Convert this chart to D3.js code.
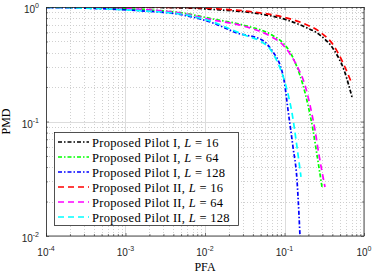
<!DOCTYPE html>
<html>
<head>
<meta charset="utf-8">
<script src="https://cdn.jsdelivr.net/npm/d3@7"></script>
<style>
  body { margin: 0; background: #fff; }
  svg { display: block; }
  .serif { font-family: "Liberation Serif", "Times New Roman"; }
  .sans { font-family: "Liberation Sans", Arial, Helvetica; }
</style>
</head>
<body>
<div id="chart"></div>
<script>
// curve data (PFA -> PMD)
const pfaBlack = [1e-4, 8.52e-4, 5.94e-3, 0.01544, 0.04134, 0.1075, 0.1811, 0.2796, 0.4194, 0.5603, 0.7063];
const pmdBlack = [1.0, 0.996, 0.980, 0.942, 0.886, 0.770, 0.669, 0.569, 0.421, 0.2817, 0.1637];
const pmdRed   = [1.0, 0.998, 0.990, 0.961, 0.904, 0.801, 0.710, 0.605, 0.456, 0.3114, 0.2126];

const pfaGreen = [1e-4, 4.776e-4, 2.033e-3, 4.847e-3, 0.0126, 0.03375, 0.06571, 0.0957, 0.1173, 0.1436, 0.1709, 0.1975, 0.2283, 0.2563, 0.2962];
const pmdGreen = [0.994, 0.980, 0.942, 0.895, 0.786, 0.682, 0.581, 0.485, 0.4046, 0.299, 0.208, 0.139, 0.0843, 0.051, 0.0268];

const pfaMagenta = [1e-4, 4.776e-4, 2.033e-3, 4.847e-3, 0.0126, 0.03375, 0.06571, 0.0957, 0.1173, 0.1479, 0.1811, 0.2093, 0.2418, 0.2716, 0.3231];
const pmdMagenta = [0.990, 0.980, 0.942, 0.886, 0.770, 0.669, 0.558, 0.466, 0.389, 0.293, 0.208, 0.139, 0.0843, 0.051, 0.0268];

const pfaBlue = [1e-4, 3.577e-4, 1.522e-3, 4.847e-3, 0.0126, 0.02526, 0.05212, 0.07165, 0.0878, 0.0986, 0.1107, 0.1279, 0.1436, 0.1522, 0.1567, 0.1613];
const pmdBlue = [0.990, 0.974, 0.928, 0.860, 0.725, 0.593, 0.515, 0.4046, 0.3114, 0.2304, 0.126, 0.0599, 0.0308, 0.01526, 0.0100, 0.00755];

const pfaCyan = [1e-4, 3.577e-4, 1.522e-3, 4.847e-3, 0.0126, 0.02064, 0.03375, 0.04918, 0.06571, 0.0804, 0.0957, 0.1075, 0.1243, 0.1436, 0.1613];
const pmdCyan = [0.990, 0.974, 0.928, 0.869, 0.740, 0.642, 0.558, 0.505, 0.430, 0.3376, 0.2496, 0.1884, 0.1187, 0.0599, 0.0328];

const xTicks = [1e-4, 1e-3, 1e-2, 1e-1, 1];
const yTicks = [1e-2, 1e-1, 1];

const series = [
  { label: "Proposed Pilot I, ",  L: "16",  color: "#000000", dash: "4,2,1.5,2", x: pfaBlack,   y: pmdBlack },
  { label: "Proposed Pilot I, ",  L: "64",  color: "#00ff00", dash: "4,2,1.5,2", x: pfaGreen,   y: pmdGreen },
  { label: "Proposed Pilot I, ",  L: "128", color: "#0000ff", dash: "4,2,1.5,2", x: pfaBlue,    y: pmdBlue },
  { label: "Proposed Pilot II, ", L: "16",  color: "#ff0000", dash: "6,4",       x: pfaBlack,   y: pmdRed },
  { label: "Proposed Pilot II, ", L: "64",  color: "#ff00ff", dash: "6,4",       x: pfaMagenta, y: pmdMagenta },
  { label: "Proposed Pilot II, ", L: "128", color: "#00ffff", dash: "6,4",       x: pfaCyan,    y: pmdCyan }
];

const W = 374, H = 273;
const margin = { top: 7, right: 10, bottom: 37, left: 46 };
const width = W - margin.left - margin.right;
const height = H - margin.top - margin.bottom;

const svg = d3.select("#chart").append("svg")
  .attr("width", W)
  .attr("height", H);

const g = svg.append("g")
  .attr("transform", `translate(${margin.left},${margin.top})`);

const x = d3.scaleLog().domain([1e-4, 1]).range([0, width]);
const y = d3.scaleLog().domain([1e-2, 1]).range([height, 0]);

// minor positions (2..9 per decade)
function minors(lo, hi) {
  const out = [];
  for (let e = lo; e < hi; e++) {
    for (let k = 2; k <= 9; k++) out.push(k * Math.pow(10, e));
  }
  return out;
}
const xMinor = minors(-4, 0);
const yMinor = minors(-2, 0);

// grid
const grid = g.append("g");
grid.selectAll(".xm").data(xMinor).enter().append("line")
  .attr("x1", d => Math.round(x(d)) + 0.5).attr("x2", d => Math.round(x(d)) + 0.5)
  .attr("y1", 0).attr("y2", height)
  .attr("stroke", "#c4c4c4").attr("stroke-width", 0.8).attr("stroke-dasharray", "1,2");
grid.selectAll(".ym").data(yMinor).enter().append("line")
  .attr("y1", d => Math.round(y(d)) + 0.5).attr("y2", d => Math.round(y(d)) + 0.5)
  .attr("x1", 0).attr("x2", width)
  .attr("stroke", "#c4c4c4").attr("stroke-width", 0.8).attr("stroke-dasharray", "1,2");
grid.selectAll(".xM").data(xTicks).enter().append("line")
  .attr("x1", d => Math.round(x(d)) + 0.5).attr("x2", d => Math.round(x(d)) + 0.5)
  .attr("y1", 0).attr("y2", height)
  .attr("stroke", "#dcdcdc").attr("stroke-width", 1);
grid.selectAll(".yM").data(yTicks).enter().append("line")
  .attr("y1", d => Math.round(y(d)) + 0.5).attr("y2", d => Math.round(y(d)) + 0.5)
  .attr("x1", 0).attr("x2", width)
  .attr("stroke", "#dcdcdc").attr("stroke-width", 1);

// curves
svg.append("defs").append("clipPath").attr("id", "clip")
  .append("rect").attr("width", width).attr("height", height);

const line = d3.line()
  .x(d => x(d[0]))
  .y(d => y(d[1]))
  .curve(d3.curveMonotoneX);

g.append("g").attr("clip-path", "url(#clip)")
  .selectAll("path")
  .data(series)
  .enter()
  .append("path")
  .attr("d", s => line(s.x.map((v, i) => [v, s.y[i]])))
  .attr("fill", "none")
  .attr("stroke", s => s.color)
  .attr("stroke-width", 1.7)
  .attr("stroke-dasharray", s => s.dash);

// axes: ticks inward on all four sides
const axisColor = "#262626";
function styleAxis(sel) {
  sel.select(".domain").remove();
  sel.selectAll("line").attr("stroke", axisColor).attr("stroke-width", 0.6);
}
g.append("g").attr("transform", `translate(0,${height})`)
  .call(d3.axisBottom(x).tickValues(xMinor).tickSize(-2).tickFormat("")).call(styleAxis);
g.append("g").call(d3.axisTop(x).tickValues(xMinor).tickSize(-2).tickFormat("")).call(styleAxis);
g.append("g").call(d3.axisLeft(y).tickValues(yMinor).tickSize(-2).tickFormat("")).call(styleAxis);
g.append("g").attr("transform", `translate(${width},0)`)
  .call(d3.axisRight(y).tickValues(yMinor).tickSize(-2).tickFormat("")).call(styleAxis);

g.append("g").attr("transform", `translate(0,${height})`)
  .call(d3.axisBottom(x).tickValues(xTicks).tickSize(-3).tickFormat("")).call(styleAxis);
g.append("g").call(d3.axisTop(x).tickValues(xTicks).tickSize(-3).tickFormat("")).call(styleAxis);
g.append("g").call(d3.axisLeft(y).tickValues(yTicks).tickSize(-3).tickFormat("")).call(styleAxis);
g.append("g").attr("transform", `translate(${width},0)`)
  .call(d3.axisRight(y).tickValues(yTicks).tickSize(-3).tickFormat("")).call(styleAxis);

g.append("rect")
  .attr("x", 0.5).attr("y", 0.5)
  .attr("width", width - 0.5).attr("height", height - 0.5)
  .attr("fill", "none").attr("stroke", axisColor).attr("stroke-width", 0.8);

// tick labels: 10 with superscript exponent
function powLabel(sel, d) {
  const e = Math.round(Math.log10(d));
  sel.append("tspan").text("10");
  sel.append("tspan").attr("dy", -5).style("font-size", "7px").text(String(e));
}
xTicks.forEach(d => {
  const t = g.append("text")
    .attr("class", "sans")
    .attr("x", x(d))
    .attr("y", height + 20)
    .attr("text-anchor", "middle")
    .attr("font-size", 10)
    .attr("fill", axisColor);
  powLabel(t, d);
});
yTicks.forEach(d => {
  const t = g.append("text")
    .attr("class", "sans")
    .attr("x", -7)
    .attr("y", y(d) + 6)
    .attr("text-anchor", "end")
    .attr("font-size", 10)
    .attr("fill", axisColor);
  powLabel(t, d);
});

// axis titles
svg.append("text")
  .attr("class", "serif")
  .attr("x", margin.left + width / 2)
  .attr("y", 271)
  .attr("text-anchor", "middle")
  .attr("font-size", 12)
  .attr("fill", "#000")
  .text("PFA");
svg.append("text")
  .attr("class", "serif")
  .attr("transform", `translate(10,${margin.top + height / 2}) rotate(-90)`)
  .attr("text-anchor", "middle")
  .attr("font-size", 12)
  .attr("fill", "#000")
  .text("PMD");

// legend
const lg = svg.append("g").attr("transform", "translate(54,132)");
lg.append("rect")
  .attr("x", 0.5).attr("y", 0.5)
  .attr("width", 184).attr("height", 93)
  .attr("fill", "#fff")
  .attr("stroke", axisColor)
  .attr("stroke-width", 0.8);

const items = lg.selectAll(".item")
  .data(series)
  .enter()
  .append("g")
  .attr("transform", (d, i) => `translate(0,${10 + i * 15})`);

items.append("line")
  .attr("x1", 4).attr("x2", 35)
  .attr("y1", 0).attr("y2", 0)
  .attr("stroke", d => d.color)
  .attr("stroke-width", 1.7)
  .attr("stroke-dasharray", d => d.dash);

const lt = items.append("text")
  .attr("class", "serif")
  .attr("x", 38)
  .attr("y", 4.5)
  .attr("font-size", 12.5)
  .attr("letter-spacing", 0.3)
  .attr("fill", "#000");
lt.append("tspan").text(d => d.label);
lt.append("tspan").attr("font-style", "italic").text("L");
lt.append("tspan").text(d => " = " + d.L);
</script>
</body>
</html>
